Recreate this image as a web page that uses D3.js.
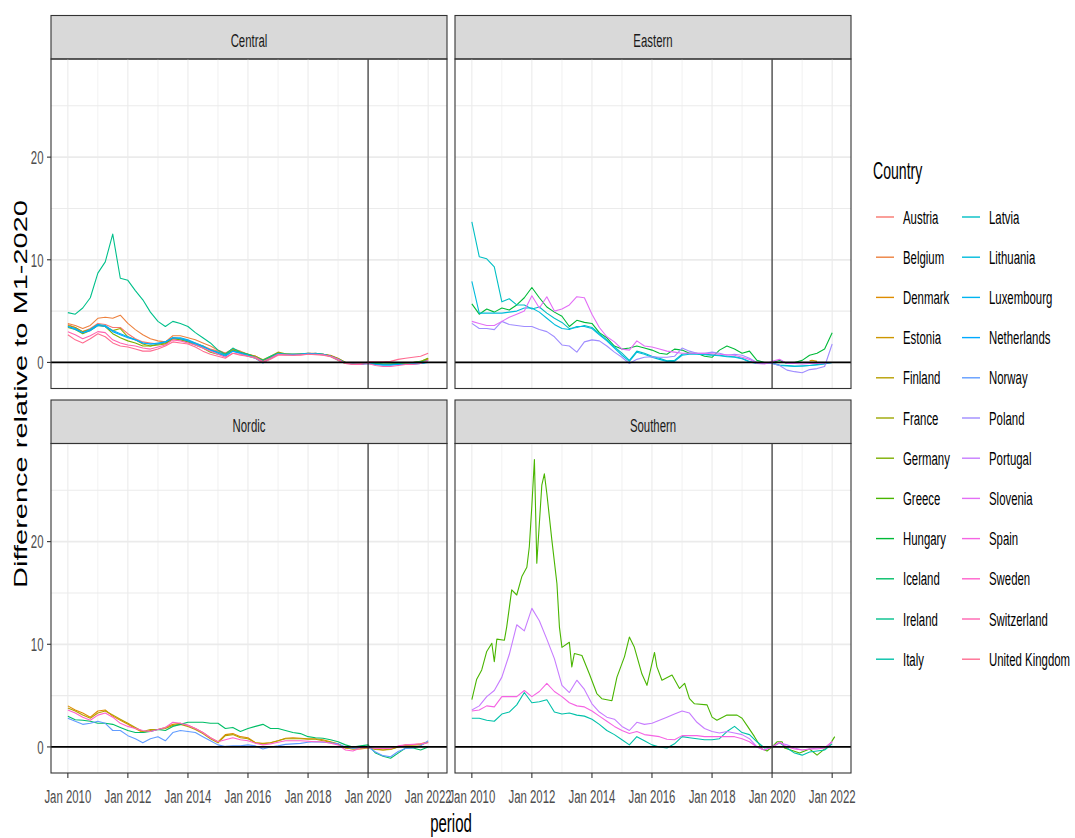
<!DOCTYPE html>
<html>
<head>
<meta charset="utf-8">
<script src="https://cdn.jsdelivr.net/npm/d3@7"></script>
<style>
  body { margin: 0; background: #fff; }
  text { font-family: "Liberation Sans", Arial, sans-serif; }
</style>
</head>
<body>
<script>
// ---- data ----
const countries = ["Austria","Belgium","Denmark","Estonia","Finland","France","Germany","Greece",
  "Hungary","Iceland","Ireland","Italy","Latvia","Lithuania","Luxembourg","Netherlands","Norway",
  "Poland","Portugal","Slovenia","Spain","Sweden","Switzerland","United Kingdom"];

const regions = ["Central","Eastern","Nordic","Southern"];
const centralCountries = ["Austria","Belgium","France","Germany","Ireland","Luxembourg","Netherlands","Switzerland","United Kingdom"];
const easternCountries = ["Estonia","Hungary","Latvia","Lithuania","Poland","Slovenia"];
const nordicCountries = ["Denmark","Finland","Iceland","Norway","Sweden"];
const southernCountries = ["Greece","Italy","Portugal","Spain"];

// quarterly values, Jan 2010 .. Jan 2022
const austria = [3.7,3.4,3.0,3.3,3.8,3.7,3.4,3.4,2.8,2.3,2.0,1.9,1.8,1.9,2.4,2.3,2.1,1.9,1.6,1.3,
  1.1,0.9,1.3,1.0,0.8,0.6,0.2,0.5,0.9,0.8,0.75,0.8,0.85,0.85,0.8,0.65,0.35,0.0,-0.15,-0.15,0.0,-0.15,-0.2,-0.2,-0.15,-0.1,-0.05,0.05,0.3];
const belgium = [3.8,3.6,3.3,3.6,4.3,4.4,4.3,4.6,3.8,3.2,2.7,2.3,2.1,2.0,2.6,2.6,2.4,2.2,1.9,1.6,
  1.2,0.9,1.3,1.1,0.8,0.6,0.2,0.5,0.9,0.85,0.75,0.8,0.9,0.9,0.8,0.7,0.4,0.0,-0.15,-0.15,-0.05,-0.1,-0.2,-0.2,-0.2,-0.1,-0.05,0.0,0.3];
const france = [3.6,3.4,3.0,3.2,3.7,3.5,3.1,3.3,2.5,2.2,1.8,1.6,1.7,1.8,2.3,2.3,2.1,1.8,1.6,1.2,
  1.0,0.8,1.2,1.0,0.8,0.6,0.25,0.6,1.0,0.85,0.8,0.85,0.9,0.85,0.75,0.65,0.35,0.0,-0.15,-0.15,-0.05,-0.1,-0.2,-0.15,-0.1,0.0,0.0,0.1,0.4];
const germany = [3.4,3.2,2.8,3.1,3.6,3.5,2.8,2.4,2.1,1.9,1.6,1.6,1.8,1.9,2.3,2.2,2.0,1.7,1.4,1.0,
  0.8,0.7,1.2,0.9,0.7,0.5,0.2,0.5,0.9,0.8,0.8,0.8,0.85,0.85,0.8,0.65,0.35,0.0,-0.1,-0.1,0.0,-0.1,-0.15,-0.15,-0.1,0.0,0.0,0.1,0.4];
const ireland = [4.85,4.7,5.3,6.3,8.7,9.8,12.5,8.2,8.0,7.0,6.1,4.9,4.0,3.5,4.0,3.8,3.5,2.9,2.4,1.9,
  1.2,0.8,1.4,1.0,0.8,0.5,0.2,0.6,0.9,0.8,0.8,0.8,0.8,0.9,0.8,0.6,0.2,-0.1,-0.1,-0.1,0.0,-0.1,-0.15,-0.15,-0.1,-0.05,0.0,0.05,0.2];
const luxembourg = [3.5,3.2,2.9,3.2,3.7,3.6,3.1,2.8,2.5,2.2,1.9,1.8,1.8,2.0,2.4,2.4,2.2,1.9,1.6,1.2,
  1.0,0.7,1.1,0.9,0.7,0.4,0.0,0.4,0.85,0.8,0.8,0.8,0.9,0.85,0.8,0.6,0.3,-0.05,-0.15,-0.15,-0.1,-0.2,-0.25,-0.25,-0.2,-0.2,-0.15,-0.1,0.0];
const netherlands = [3.5,3.3,2.9,3.1,3.6,3.5,3.0,2.7,2.4,2.2,1.9,1.8,1.9,2.0,2.4,2.3,2.1,1.8,1.5,1.2,
  0.9,0.6,1.1,0.9,0.6,0.4,-0.05,0.4,0.8,0.75,0.75,0.8,0.85,0.8,0.75,0.6,0.3,-0.05,-0.15,-0.2,-0.1,-0.2,-0.25,-0.25,-0.2,-0.2,-0.15,-0.1,0.05];
const switzerland = [3.0,2.7,2.3,2.6,3.0,2.9,2.2,1.9,1.7,1.6,1.4,1.3,1.5,1.7,2.2,2.1,1.9,1.7,1.4,1.1,
  0.8,0.5,0.9,0.8,0.6,0.5,0.1,0.4,0.8,0.75,0.7,0.75,0.8,0.8,0.75,0.6,0.3,-0.1,-0.2,-0.2,-0.1,-0.3,-0.4,-0.4,-0.3,-0.2,-0.2,-0.1,0.2];
const unitedKingdom = [2.7,2.2,1.9,2.3,2.8,2.5,1.9,1.6,1.5,1.3,1.1,1.1,1.3,1.6,2.0,1.9,1.8,1.5,1.1,0.8,
  0.6,0.4,0.9,0.7,0.6,0.4,0.0,0.3,0.7,0.7,0.7,0.7,0.8,0.75,0.7,0.55,0.2,-0.1,-0.15,-0.1,0.05,0.05,0.05,0.1,0.3,0.4,0.5,0.6,0.9];

const hungary = [5.7,4.7,5.2,4.9,5.3,5.1,5.6,6.3,7.3,6.3,5.4,4.9,4.5,3.5,4.1,3.9,3.8,2.9,2.4,1.6,
  1.3,1.4,1.6,1.4,1.2,0.9,0.8,1.3,1.2,0.9,0.9,0.6,0.5,1.2,1.6,1.3,0.9,1.1,0.2,0.0,0.0,0.2,-0.1,0.0,0.2,0.7,0.9,1.3,2.9];
const latvia = [13.7,10.3,10.1,9.3,5.9,6.2,5.6,5.6,5.2,5.4,4.8,4.3,3.9,3.3,3.4,3.6,3.4,2.8,2.2,1.5,
  0.9,0.2,1.1,0.9,0.6,0.4,0.15,0.2,0.8,0.9,0.85,0.8,0.75,0.7,0.6,0.55,0.4,0.1,-0.05,-0.1,-0.05,-0.25,-0.3,-0.35,-0.35,-0.3,-0.2,-0.1,0.0];
const lithuania = [7.9,4.8,4.8,4.8,4.8,4.9,5.0,5.3,5.3,4.9,4.3,3.7,3.3,3.2,3.5,3.5,3.3,2.7,2.1,1.4,
  0.7,0.1,1.0,0.8,0.5,0.3,0.1,0.1,0.7,0.8,0.8,0.75,0.7,0.65,0.55,0.5,0.35,0.05,-0.1,-0.1,-0.1,-0.3,-0.35,-0.4,-0.35,-0.3,-0.25,-0.15,0.0];
const poland = [3.8,3.3,3.3,3.2,4.0,3.7,3.6,3.5,3.5,3.2,3.0,2.5,1.7,1.6,1.0,2.0,2.2,2.1,1.6,1.0,
  0.5,-0.1,0.3,0.5,0.55,0.5,0.5,0.6,1.4,1.1,0.9,0.9,1.0,0.9,0.7,0.8,0.7,0.4,0.0,-0.1,-0.1,-0.3,-0.75,-0.9,-1.0,-0.7,-0.6,-0.4,1.8];
const slovenia = [4.0,3.8,3.6,3.6,4.0,4.4,4.7,5.0,6.5,5.3,6.4,5.0,5.2,5.6,6.4,6.3,4.7,3.4,2.5,2.0,
  1.3,1.2,2.1,1.6,1.5,1.3,1.1,1.0,0.9,0.9,0.9,0.9,0.85,0.8,0.75,0.7,0.5,0.3,-0.1,-0.15,0.1,0.3,-0.1,-0.1,-0.15,-0.1,-0.1,-0.05,0.0];

const denmark = [4.0,3.6,3.3,2.9,3.5,3.6,3.0,2.6,2.2,1.8,1.4,1.6,1.7,1.9,2.2,2.3,2.1,1.8,1.4,0.9,
  0.5,1.2,1.3,1.0,0.9,0.4,0.35,0.4,0.6,0.85,0.9,0.85,0.8,0.8,0.7,0.5,0.3,-0.1,-0.2,-0.2,-0.1,-0.2,-0.3,-0.2,0.0,0.2,0.2,0.3,0.5];
const finland = [3.8,3.5,3.1,2.8,3.3,3.5,3.1,2.7,2.3,1.9,1.5,1.7,1.7,1.8,2.1,2.2,2.0,1.7,1.3,0.8,
  0.4,1.1,1.2,0.9,0.8,0.4,0.3,0.4,0.6,0.8,0.8,0.8,0.75,0.75,0.6,0.45,0.25,-0.1,-0.2,-0.15,-0.05,-0.25,-0.3,-0.25,0.0,0.15,0.2,0.2,0.45];
const iceland = [3.0,2.65,2.6,2.5,2.3,2.3,2.2,1.9,1.6,1.4,1.4,1.5,1.7,1.6,2.0,2.2,2.4,2.4,2.4,2.3,
  2.3,1.8,1.9,1.5,1.8,2.0,2.2,1.8,1.8,1.6,1.4,1.3,1.0,0.9,0.85,0.7,0.5,0.2,0.0,0.1,0.2,-0.6,-0.9,-1.1,-0.6,-0.1,-0.1,-0.3,0.0];
const norway = [2.8,2.5,2.2,2.3,2.5,2.3,1.6,1.6,1.1,0.8,0.4,0.8,1.0,0.6,1.4,1.6,1.5,1.4,1.0,0.6,
  0.2,0.05,0.1,0.1,0.2,0.1,-0.2,0.0,0.1,0.25,0.3,0.35,0.45,0.5,0.45,0.4,0.3,0.0,-0.15,-0.05,0.0,-0.5,-0.85,-0.95,-0.45,-0.15,-0.1,0.1,0.6];
const sweden = [3.6,3.3,2.9,2.6,3.1,3.3,2.9,2.3,2.0,1.8,1.6,1.5,1.7,1.9,2.4,2.3,2.1,1.8,1.4,0.9,
  0.5,0.7,0.9,0.7,0.6,0.35,0.2,0.3,0.45,0.6,0.6,0.6,0.55,0.5,0.5,0.35,0.2,-0.3,-0.4,-0.1,-0.05,-0.15,-0.15,-0.15,0.1,0.2,0.25,0.3,0.4];

const italy = [2.8,2.8,2.6,2.5,3.2,3.4,4.1,5.3,4.3,4.4,4.6,3.4,3.2,3.3,3.1,3.0,2.7,2.2,1.6,1.2,
  0.7,0.2,1.0,0.6,0.2,0.0,-0.1,0.3,1.0,0.9,0.8,0.7,0.7,0.8,1.5,2.0,1.4,1.2,0.5,-0.1,0.0,0.4,-0.1,-0.6,-0.8,-0.5,-0.4,-0.3,0.3];
const portugal = [3.6,4.0,4.9,5.5,6.8,9.0,11.9,11.3,13.5,12.3,10.5,8.6,6.0,5.3,6.5,5.6,4.2,3.4,2.9,2.7,
  2.0,1.6,2.4,2.2,2.3,2.6,2.9,3.2,3.5,3.3,2.4,1.8,1.5,1.35,1.5,1.35,1.2,0.8,0.0,-0.3,0.0,0.4,0.2,-0.1,-0.3,-0.2,-0.1,-0.1,0.5];
const spain = [3.5,3.6,4.0,3.9,4.9,4.9,4.9,5.5,4.9,5.4,6.2,5.4,4.9,4.3,4.0,3.9,3.5,3.0,2.5,2.0,
  1.6,1.3,1.5,1.2,1.1,1.0,0.75,0.7,1.1,1.1,1.1,1.0,1.0,1.0,1.0,1.0,0.8,0.5,0.0,-0.3,0.0,0.45,0.0,-0.2,-0.3,-0.2,-0.2,-0.1,0.5];

// monthly readings [months after Jan 2010, value]
const greece = [[0,4.6],[2,6.6],[4,7.5],[6,9.3],[8,10.1],[9,8.3],[10,10.5],[13,10.4],[14,11.7],[16,15.3],
  [18,14.8],[20,16.6],[22,17.5],[23,19.5],[24,23.5],[25,28.0],[26,17.9],[28,25.5],[29,26.6],[30,24.7],
  [32,20.1],[34,15.9],[35,11.7],[36,9.7],[39,10.2],[40,7.8],[41,9.1],[44,8.9],[47,7.1],[50,5.2],[52,4.7],
  [56,4.5],[58,6.8],[61,8.8],[63,10.7],[65,9.7],[68,7.1],[70,6.0],[73,9.2],[74,7.8],[76,6.5],[80,7.0],
  [83,5.7],[85,6.2],[87,4.7],[89,4.2],[94,4.1],[96,2.9],[98,2.6],[102,3.1],[106,3.1],[108,2.8],[110,2.1],
  [113,1.0],[116,-0.2],[118,-0.4],[120,0.0],[122,0.5],[124,0.5],[125,-0.1],[131,-0.6],[135,-0.2],
  [138,-0.8],[143,0.2],[145,1.0]];
const estonia = [[135,0.15],[136,0.2],[137,0.15],[138,0.1]];

const xTickYears = [2010,2012,2014,2016,2018,2020,2022];
const xTickLabels = ["Jan 2010","Jan 2012","Jan 2014","Jan 2016","Jan 2018","Jan 2020","Jan 2022"];
const yTicks = [0,10,20];
const yMinor = [5,15,25];
const markerYear = 2020;

// ---- build table ----
const quarterly = {Austria: austria, Belgium: belgium, France: france, Germany: germany, Ireland: ireland,
  Luxembourg: luxembourg, Netherlands: netherlands, Switzerland: switzerland, "United Kingdom": unitedKingdom,
  Hungary: hungary, Latvia: latvia, Lithuania: lithuania, Poland: poland, Slovenia: slovenia,
  Denmark: denmark, Finland: finland, Iceland: iceland, Norway: norway, Sweden: sweden,
  Italy: italy, Portugal: portugal, Spain: spain};
const monthly = {Greece: greece, Estonia: estonia};
const regionLists = [centralCountries, easternCountries, nordicCountries, southernCountries];

const start = new Date(2010, 0, 1);
function regionOf(name) {
  return regions[regionLists.findIndex(l => l.includes(name))];
}
const series = countries.map(name => {
  let pts;
  if (quarterly[name]) pts = quarterly[name].map((v, i) => ({date: d3.timeMonth.offset(start, 3 * i), value: v}));
  else pts = monthly[name].map(([m, v]) => ({date: d3.timeMonth.offset(start, m), value: v}));
  return {name, region: regionOf(name), points: pts};
});

// ggplot hue palette: hcl(h, c = 100, l = 65) in polar LUV
function hclLuv(h, c, l) {
  const WX = 95.047, WY = 100, WZ = 108.883;
  const un = 4 * WX / (WX + 15 * WY + 3 * WZ), vn = 9 * WY / (WX + 15 * WY + 3 * WZ);
  const hr = h * Math.PI / 180;
  const U = c * Math.cos(hr), V = c * Math.sin(hr);
  const Y = WY * (l > 7.999592 ? Math.pow((l + 16) / 116, 3) : l / 903.3);
  const u = U / (13 * l) + un, v = V / (13 * l) + vn;
  const X = 9 * Y * u / (4 * v);
  const Z = -X / 3 - 5 * Y + 3 * Y / v;
  const g = t => t > 0.00304 ? 1.055 * Math.pow(t, 1 / 2.4) - 0.055 : 12.92 * t;
  const cl = t => Math.max(0, Math.min(255, Math.round(255 * g(t))));
  return d3.rgb(cl((3.240479 * X - 1.537150 * Y - 0.498535 * Z) / WY),
                cl((-0.969256 * X + 1.875992 * Y + 0.041556 * Z) / WY),
                cl((0.055648 * X - 0.204043 * Y + 1.057311 * Z) / WY)).formatHex();
}
const color = d3.scaleOrdinal().domain(countries)
  .range(countries.map((d, i) => hclLuv(15 + 360 / countries.length * i, 100, 65)));

// ---- layout ----
const W = 1075, H = 838;
const SX = 0.6;               // picture is squeezed sideways
const panelW = 396, panelH = 329.5;
const colX = [51, 455];
const rowTop = [59, 443.5];
const stripH = 43.5;

const svg = d3.select("body").append("svg").attr("width", W).attr("height", H);

const x = d3.scaleTime().domain([new Date(2009, 5, 10), new Date(2022, 7, 18)]).range([0, panelW]);
const y = d3.scaleLinear().domain([-2.54, 29.56]).range([panelH, 0]);

function label(g, str, px, py, size, anchor, fill, sx = SX) {
  return g.append("text")
    .attr("transform", `translate(${px},${py}) scale(${sx},1)`)
    .attr("text-anchor", anchor).attr("font-size", size).attr("fill", fill).text(str);
}

const line = d3.line().x(d => x(d.date)).y(d => y(d.value));

regions.forEach((region, i) => {
  const col = i % 2, row = Math.floor(i / 2);
  const g = svg.append("g").attr("transform", `translate(${colX[col]},${rowTop[row]})`);

  // strip
  g.append("rect").attr("x", 0).attr("y", -stripH).attr("width", panelW).attr("height", stripH)
    .attr("fill", "#D9D9D9").attr("stroke", "#333333").attr("stroke-width", 1.1);
  label(g, region, panelW / 2, -stripH + 31.5, 19, "middle", "#1A1A1A");

  // grid
  const clip = "clip" + i;
  g.append("clipPath").attr("id", clip).append("rect").attr("width", panelW).attr("height", panelH);
  const grid = g.append("g");
  grid.selectAll(".hmin").data(yMinor).join("line")
    .attr("x1", 0).attr("x2", panelW).attr("y1", d => y(d)).attr("y2", d => y(d))
    .attr("stroke", "#EBEBEB").attr("stroke-width", 1.1);
  grid.selectAll(".hmaj").data(yTicks).join("line")
    .attr("x1", 0).attr("x2", panelW).attr("y1", d => y(d)).attr("y2", d => y(d))
    .attr("stroke", "#EBEBEB").attr("stroke-width", 1.8);
  const minorYears = d3.range(2011, 2022, 2);
  grid.selectAll(".vmin").data(minorYears).join("line")
    .attr("x1", d => x(new Date(d, 0, 1))).attr("x2", d => x(new Date(d, 0, 1)))
    .attr("y1", 0).attr("y2", panelH).attr("stroke", "#EBEBEB").attr("stroke-width", 0.7);
  grid.selectAll(".vmaj").data(xTickYears).join("line")
    .attr("x1", d => x(new Date(d, 0, 1))).attr("x2", d => x(new Date(d, 0, 1)))
    .attr("y1", 0).attr("y2", panelH).attr("stroke", "#EBEBEB").attr("stroke-width", 1.1);

  // series
  g.append("g").attr("clip-path", `url(#${clip})`)
    .selectAll("path").data(series.filter(s => s.region === region)).join("path")
    .attr("d", s => line(s.points)).attr("fill", "none")
    .attr("stroke", s => color(s.name)).attr("stroke-width", 1.1).attr("stroke-linejoin", "round");

  // reference lines
  g.append("line").attr("x1", 0).attr("x2", panelW).attr("y1", y(0)).attr("y2", y(0))
    .attr("stroke", "#000").attr("stroke-width", 1.8);
  const xm = x(new Date(markerYear, 0, 1));
  g.append("line").attr("x1", xm).attr("x2", xm).attr("y1", 0).attr("y2", panelH)
    .attr("stroke", "#222").attr("stroke-width", 1.1);

  // border
  g.append("rect").attr("width", panelW).attr("height", panelH)
    .attr("fill", "none").attr("stroke", "#333333").attr("stroke-width", 1.1);

  // axes
  if (col === 0) {
    yTicks.forEach(t => {
      g.append("line").attr("x1", -4).attr("x2", 0).attr("y1", y(t)).attr("y2", y(t))
        .attr("stroke", "#333333").attr("stroke-width", 1.1);
      label(g, String(t), -7.5, y(t) + 6.8, 19, "end", "#4D4D4D");
    });
  }
  if (row === 1) {
    xTickYears.forEach((yr, k) => {
      const px = x(new Date(yr, 0, 1));
      g.append("line").attr("x1", px).attr("x2", px).attr("y1", panelH).attr("y2", panelH + 5)
        .attr("stroke", "#333333").attr("stroke-width", 1.1);
      label(g, xTickLabels[k], px, panelH + 29.5, 19, "middle", "#4D4D4D");
    });
  }
});

// axis titles
svg.append("text")
  .attr("transform", `translate(26.5,394) scale(0.61,1) rotate(-90)`)
  .attr("text-anchor", "middle").attr("font-size", 29).attr("fill", "#000")
  .text("Difference relative to M1-2020");
label(svg, "period", 451, 831.5, 25, "middle", "#000");

// legend
const leg = svg.append("g");
label(leg, "Country", 873, 179, 23.5, "start", "#000");
const perCol = 12;
countries.forEach((c, i) => {
  const col = Math.floor(i / perCol), r = i % perCol;
  const lx = col === 0 ? 876 : 962;
  const ly = 217 + r * 40.2;
  leg.append("line").attr("x1", lx).attr("x2", lx + 18).attr("y1", ly).attr("y2", ly)
    .attr("stroke", color(c)).attr("stroke-width", 1.4);
  label(leg, c, lx + 27, ly + 6.5, 19, "start", "#000");
});
</script>
</body>
</html>
